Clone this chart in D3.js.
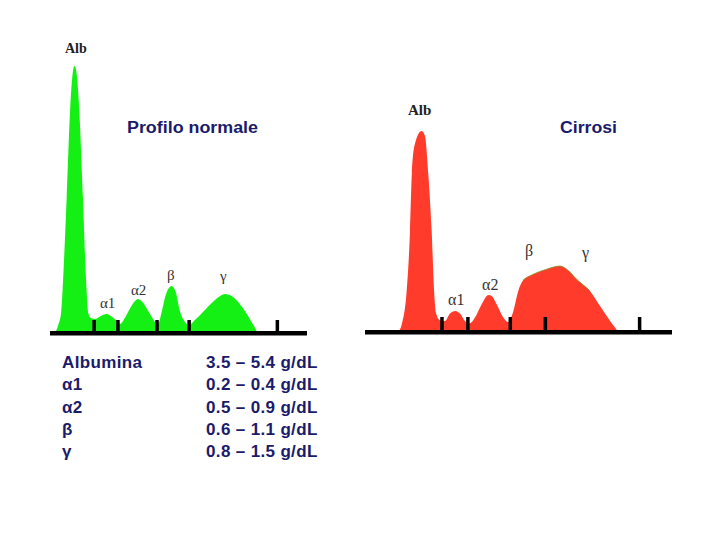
<!DOCTYPE html>
<html>
<head>
<meta charset="utf-8">
<script src="https://cdn.jsdelivr.net/npm/d3@7"></script>
<style>
  html, body { margin: 0; padding: 0; background: #ffffff; }
  svg { display: block; }
</style>
</head>
<body>
<script>
// ---- Data ----
// Normal serum protein electrophoresis: mobility (0-100) and relative density
const normalMobility = [0, 1.2, 2.5, 3.7, 4.8, 6.2, 7.4, 8.0, 8.6, 9.9, 11.5, 12.8, 13.7, 14.8, 16.5, 18.5, 21.3, 23.5, 25.5, 26.7, 29.2, 31.7, 34.2, 36.6, 39.1, 41.6, 42.4, 44.0, 45.7, 48.0, 49.8, 51.4, 53.5, 55.1, 58.0, 62.1, 66.3, 70.0, 73.3, 77.0, 80.2, 83.5];
const normalDensity  = [0, 2.6, 7.5, 27, 50.6, 83.1, 98.1, 100, 98.9, 85, 50.6, 19.5, 7.5, 5.6, 5.2, 6.2, 7.1, 6.0, 4.5, 3.4, 6.4, 10.5, 12.7, 10.9, 7.1, 3.7, 3.4, 8.2, 14.6, 17.6, 15.0, 8.2, 4.1, 3.0, 5.2, 9.0, 12.7, 14.6, 13.5, 9.7, 5.2, 0];
const normalTicks = [16.0, 25.8, 41.9, 55.1, 91.4];

// Cirrhosis profile
const cirrMobility = [10.2, 11.4, 13.0, 14.1, 14.7, 15.7, 17.9, 19.0, 20.1, 21.2, 22.0, 22.6, 23.9, 25.6, 27.2, 28.9, 30.5, 32.1, 33.8, 35.4, 37.6, 39.8, 40.9, 42.5, 44.7, 46.3, 48.0, 49.6, 51.2, 54.5, 58.9, 63.3, 65.5, 68.8, 73.1, 76.4, 79.7, 82.4];
const cirrDensity  = [0, 2.9, 15.4, 37.8, 59.2, 70.4, 75.3, 73.4, 59.2, 37.8, 15.4, 7.2, 4.4, 4.1, 6.9, 7.9, 6.9, 4.1, 3.3, 5.4, 10.4, 13.9, 13.5, 10.4, 5.4, 3.7, 7.9, 15.4, 19.4, 21.6, 23.5, 24.7, 23.5, 19.7, 15.4, 9.7, 4.1, 0];
const cirrTicks = [24.5, 33.0, 46.9, 58.4, 89.3];

const fractionLabels = ["Alb", "α1", "α2", "β", "γ"];
const panelTitles = ["Profilo normale", "Cirrosi"];

const tableNames  = ["Albumina", "α1", "α2", "β", "γ"];
const tableRanges = ["3.5 – 5.4 g/dL", "0.2 – 0.4 g/dL", "0.5 – 0.9 g/dL", "0.6 – 1.1 g/dL", "0.8 – 1.5 g/dL"];

// ---- Layout ----
const W = 720, H = 540;
const svg = d3.select("body").append("svg").attr("width", W).attr("height", H);

const navy = "#1b1b6b";

const panels = [
  {
    mob: normalMobility, den: normalDensity, ticks: normalTicks,
    xr: [55, 298], base: 333, lineExt: [50, 307], tickTop: 320,
    fill: "#14f014",
    title: { x: 127, y: 133, w: 131 },
    labelFont: 14,
    labels: [[65, 53, true], [100, 308], [131, 295], [167, 280], [220, 281]]
  },
  {
    mob: cirrMobility, den: cirrDensity, ticks: cirrTicks,
    xr: [367, 672], base: 332, lineExt: [365, 672], tickTop: 317,
    fill: "#ff3b2b",
    title: { x: 560, y: 133, w: 57 },
    labelFont: 15,
    labels: [[408, 115, true], [448, 305], [482, 290], [525, 256], [582, 258]]
  }
];

const yUnit = 2.67; // px per density unit

panels.forEach((p, pi) => {
  const x = d3.scaleLinear().domain([0, 100]).range(p.xr);
  const y = d3.scaleLinear().domain([0, 100]).range([p.base, p.base - 100 * yUnit]);
  const pts = p.mob.map((m, i) => [m, p.den[i]]);

  const area = d3.area()
    .x(d => x(d[0]))
    .y0(y(0))
    .y1(d => y(d[1]))
    .curve(d3.curveMonotoneX);

  svg.append("path")
    .datum(pts)
    .attr("d", area)
    .attr("fill", p.fill);

  if (pi === 1) {
    // thin greenish edge on the top of the beta-gamma hump
    const edge = pts.filter(d => d[0] >= 51 && d[0] <= 74);
    svg.append("path")
      .datum(edge)
      .attr("d", d3.line().x(d => x(d[0])).y(d => y(d[1])).curve(d3.curveMonotoneX))
      .attr("fill", "none")
      .attr("stroke", "#7a9a2a")
      .attr("stroke-width", 1)
      .attr("opacity", 0.8);
  }

  // baseline
  svg.append("rect")
    .attr("x", p.lineExt[0])
    .attr("y", p.base - 2)
    .attr("width", p.lineExt[1] - p.lineExt[0])
    .attr("height", 4.5)
    .attr("fill", "#000");

  // tick marks
  svg.selectAll(null)
    .data(p.ticks)
    .enter().append("rect")
    .attr("x", d => x(d) - 1.5)
    .attr("y", p.tickTop)
    .attr("width", 3.5)
    .attr("height", p.base - p.tickTop)
    .attr("fill", "#000");

  // fraction labels
  fractionLabels.forEach((t, i) => {
    const L = p.labels[i];
    svg.append("text")
      .attr("x", L[0])
      .attr("y", L[1])
      .attr("font-family", "'Liberation Serif', 'Times New Roman', serif")
      .attr("font-size", L[2] ? p.labelFont : p.labelFont + 1)
      .attr("font-weight", L[2] ? "bold" : "normal")
      .attr("fill", L[2] ? "#222" : "#333")
      .text(t);
  });

  // panel title
  svg.append("text")
    .attr("x", p.title.x)
    .attr("y", p.title.y)
    .attr("font-family", "'Liberation Sans', Arial, sans-serif")
    .attr("font-size", 16)
    .attr("font-weight", "bold")
    .attr("fill", navy)
    .attr("textLength", p.title.w)
    .attr("lengthAdjust", "spacingAndGlyphs")
    .text(panelTitles[pi]);
});

// ---- reference table ----
const rowY = d3.scalePoint().domain(d3.range(tableNames.length)).range([368, 457]);
const tbl = svg.append("g")
  .attr("font-family", "'Liberation Sans', Arial, sans-serif")
  .attr("font-size", 17)
  .attr("font-weight", "bold")
  .attr("letter-spacing", "0.35px")
  .attr("fill", navy);

tbl.selectAll(".nm").data(tableNames).enter().append("text")
  .attr("class", "nm")
  .attr("x", 62)
  .attr("y", (d, i) => rowY(i))
  .text(d => d);

tbl.selectAll(".rg").data(tableRanges).enter().append("text")
  .attr("class", "rg")
  .attr("x", 206)
  .attr("y", (d, i) => rowY(i))
  .text(d => d);
</script>
</body>
</html>
